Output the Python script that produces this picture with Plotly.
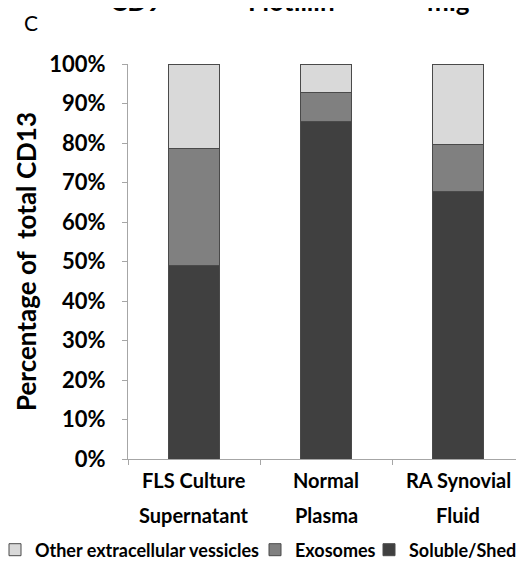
import plotly.graph_objects as go

categories = ["FLS Culture Supernatant", "Normal Plasma", "RA Synovial Fluid"]
label_line1 = ["FLS Culture", "Normal", "RA Synovial"]
label_line2 = ["Supernatant", "Plasma", "Fluid"]
soluble = [0.49, 0.855, 0.677]
exosomes = [0.295, 0.072, 0.118]
other = [0.215, 0.073, 0.205]
series_names = ["Soluble/Shed", "Exosomes", "Other extracellular vessicles"]
series_colors = ["#404040", "#808080", "#d9d9d9"]
y_ticks = [i / 10 for i in range(11)]
top_fragments = ["CD9", "Flotillin", "mIg"]

FONT = "Lato"
OFF = 8  # page body margin
# plot area in figure pixels
L, T, W, H = 128 - OFF, 64 - OFF, 396, 395
FIG_W, FIG_H = 524 - OFF, 561 - OFF


def px_x(p):
    """page pixel -> paper x"""
    return (p - OFF - L) / W


def px_y(p):
    """page pixel -> paper y"""
    return (T + H - (p - OFF)) / H


legend_ids = ["legend3", "legend2", "legend"]
legend_sym_x = [389, 275, 15]

fig = go.Figure()
for name, vals, col, lid in zip(series_names, [soluble, exosomes, other], series_colors, legend_ids):
    fig.add_trace(go.Bar(
        x=categories, y=vals, name=name, legend=lid,
        marker=dict(color=col, line=dict(color="#4a4a4a", width=1)),
        width=0.39,
    ))

annotations = []
for c, l1, l2 in zip(categories, label_line1, label_line2):
    annotations.append(dict(x=c, xref="x", y=px_y(480), yref="paper", text=l1, showarrow=False,
                            yanchor="middle", font=dict(family=FONT, size=20, color="black", weight="bold")))
    annotations.append(dict(x=c, xref="x", y=px_y(515), yref="paper", text=l2, showarrow=False,
                            yanchor="middle", font=dict(family=FONT, size=20, color="black", weight="bold")))

annotations.append(dict(x=px_x(31), xref="paper", y=px_y(22), yref="paper", text="C", showarrow=False,
                        font=dict(family=FONT, size=21, color="black"), xanchor="center", yanchor="middle"))

annotations.append(dict(x=px_x(26), xref="paper", y=px_y(262), yref="paper",
                        text="Percentage of  total CD13", textangle=-90, showarrow=False,
                        xanchor="center", yanchor="middle",
                        font=dict(family=FONT, size=26, color="black", weight="bold")))

frag_x = [136, 291, 448]
for t, p in zip(top_fragments, frag_x):
    annotations.append(dict(x=px_x(p), xref="paper", y=px_y(19), yref="paper",
                            text=t, showarrow=False, xanchor="center", yanchor="bottom",
                            font=dict(family=FONT, size=26, color="black", weight="bold")))

legend_common = dict(orientation="h", xanchor="left", y=px_y(550), yanchor="middle",
                     font=dict(family=FONT, size=18, color="black", weight="bold"),
                     itemwidth=30, bgcolor="rgba(0,0,0,0)")
legends = {}
for lid, sx in zip(legend_ids, legend_sym_x):
    legends[lid] = dict(legend_common, x=px_x(sx - 20))

fig.update_layout(
    barmode="stack",
    width=FIG_W, height=FIG_H,
    margin=dict(l=L, r=FIG_W - L - W, t=T, b=FIG_H - T - H, autoexpand=False),
    plot_bgcolor="white", paper_bgcolor="white",
    showlegend=True,
    annotations=annotations,
    **legends,
)
fig.update_yaxes(
    range=[0, 1], tickvals=y_ticks, tickformat=".0%",
    showline=True, linecolor="#a6a6a6", linewidth=1,
    ticks="outside", ticklen=5, tickcolor="#a6a6a6",
    showgrid=False, zeroline=False, automargin=False,
    tickfont=dict(family=FONT, size=22, color="black", weight="bold"),
    ticklabelstandoff=12,
)
fig.update_xaxes(
    showline=True, linecolor="#a6a6a6", linewidth=1,
    ticks="outside", ticklen=5, tickcolor="#a6a6a6", tickson="boundaries",
    showticklabels=False, showgrid=False, automargin=False,
)
fig.write_html("out.html")
